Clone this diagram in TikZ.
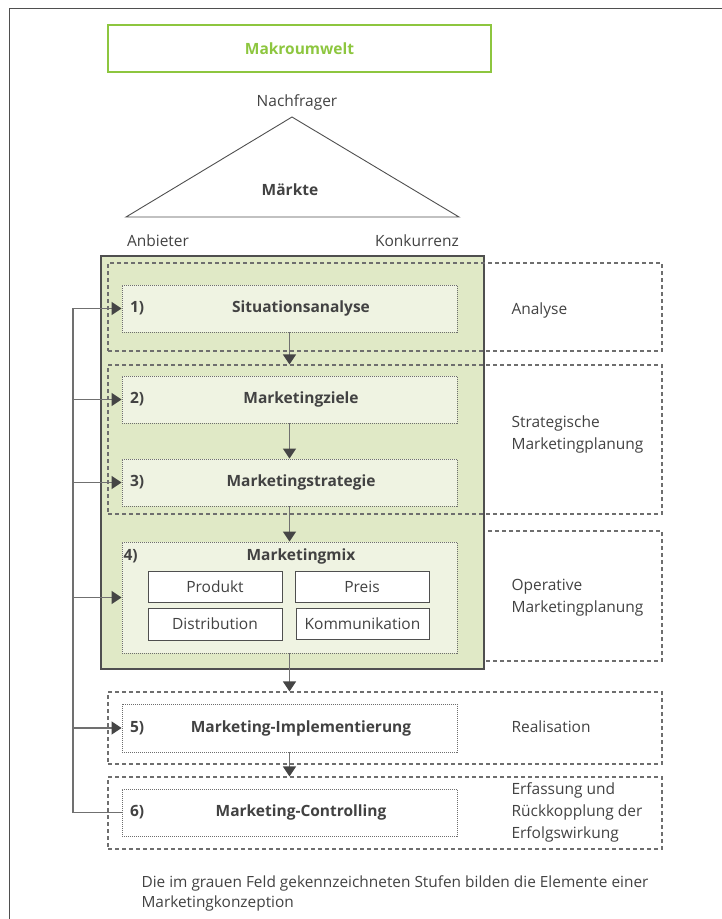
\documentclass[tikz,border=0pt]{standalone}
\usepackage{fontspec}
\setmainfont{Open Sans}
\usetikzlibrary{arrows.meta}
\definecolor{txt}{HTML}{424242}
\definecolor{lime}{HTML}{8DC63F}
\definecolor{olive}{HTML}{E0E9C6}
\definecolor{pale}{HTML}{EFF3E2}
\definecolor{framec}{HTML}{4F4F4F}
\definecolor{dashc}{HTML}{6E6E6E}
\definecolor{conn}{HTML}{707070}
\definecolor{tipc}{HTML}{454545}

\begin{document}
\begin{tikzpicture}[x=1pt,y=-1pt,
  font=\fontsize{15.5}{22}\selectfont, text=txt,
  groupbox/.style={draw=dashc, line width=1.2pt, dash pattern=on 4pt off 3pt,
    rectangle, inner sep=0pt, minimum width=554pt},
  stagebox/.style={draw=dashc, fill=pale, line width=0.9pt, dash pattern=on 1pt off 1pt,
    rectangle, inner sep=0pt, minimum width=335pt, minimum height=47pt},
  mixbox/.style={draw=framec, fill=white, line width=1pt, rectangle, inner sep=0pt,
    minimum width=134pt, minimum height=31pt},
  title/.style={font=\fontsize{15.5}{22}\selectfont\bfseries},
  num/.style={font=\fontsize{15.5}{22}\selectfont\bfseries, anchor=west},
  side/.style={anchor=west, align=left},
  arr/.style={draw=conn, line width=1.3pt,
    -{Triangle[width=13pt,length=10pt,color=tipc]}},
  line/.style={draw=conn, line width=1.3pt}
]
\useasboundingbox (0,0) rectangle (722,919);

% outer frame (top and left edges)
\draw[framec, line width=1.5pt] (9.5,919) -- (9.5,8.5) -- (722,8.5);

% macro environment
\node[draw=lime, line width=1.5pt, minimum width=383pt, minimum height=47pt, inner sep=0pt]
  (makro) at (299.5,48.5) {};
\node[font=\fontsize{15.5}{22}\selectfont\bfseries, text=lime] (makrot) at (299.5,48.5) {Makroumwelt};

% market triangle
\coordinate (apex) at (292,117);
\coordinate (bl) at (126,217);
\coordinate (br) at (459,217);
\draw[framec, line width=0.9pt, line join=miter] (bl) -- (apex) -- (br) -- cycle;
\node (nach) at (297,102) {Nachfrager};
\node[title] (maerkte) at (290,190) {Märkte};
\node (anb) at (158,241) {Anbieter};
\node (konk) at (417,241) {Konkurrenz};

% operative phase frame (behind the concept field)
\node[groupbox, minimum height=130pt] (g4) at (385,596) {};

% concept field
\node[draw=framec, fill=olive, line width=1.2pt, rectangle, inner sep=0pt,
  minimum width=383pt, minimum height=413pt] (field) at (292.5,462.5) {};

% phase frames
\node[groupbox, minimum height=88pt] (g1) at (385,307) {};
\node[groupbox, minimum height=149pt] (g2) at (385,439.5) {};
\node[groupbox, minimum height=72pt] (g5) at (385,728) {};
\node[groupbox, minimum height=72pt] (g6) at (385,813) {};

% stages
\node[stagebox] (b1) at (289.5,308.5) {};
\node[stagebox] (b2) at (289.5,399.5) {};
\node[stagebox] (b3) at (289.5,482.5) {};
\node[stagebox, minimum height=111pt] (b4) at (289.5,597.5) {};
\node[stagebox, fill=white, minimum height=48pt] (b5) at (289.5,728) {};
\node[stagebox, fill=white] (b6) at (289.5,812.5) {};

\node[num] (n1) at ([xshift=5pt]b1.west) {1)};
\node[num] (n2) at ([xshift=5pt]b2.west) {2)};
\node[num] (n3) at ([xshift=5pt]b3.west) {3)};
\node[num] (n4) at (120,556) {4)};
\node[num] (n5) at ([xshift=5pt]b5.west) {5)};
\node[num] (n6) at ([xshift=5pt]b6.west) {6)};

\node[title] (t1) at (301,308.5) {Situationsanalyse};
\node[title] (t2) at (301,399.5) {Marketingziele};
\node[title] (t3) at (301,482.5) {Marketingstrategie};
\node[title] (t4) at (301,556) {Marketingmix};
\node[title] (t5) at (301,728) {Marketing-Implementierung};
\node[title] (t6) at (301,812.5) {Marketing-Controlling};

% marketing mix instruments
\node[mixbox] (prod) at (215,586.5) {Produkt};
\node[mixbox] (preis) at (362,586.5) {Preis};
\node[mixbox, minimum height=32pt] (dist) at (215,624) {Distribution};
\node[mixbox, minimum width=133pt] (komm) at (362.5,624) {Kommunikation};

% phase labels
\node[side] (l1) at (508,310) {Analyse};
\node[side] (l2) at (508,434) {Strategische\\Marketingplanung};
\node[side] (l4) at (508,598) {Operative\\Marketingplanung};
\node[side] (l5) at (508,727) {Realisation};
\node[side] (l6) at (508,812) {Erfassung und\\Rückkopplung der\\Erfolgswirkung};

% sequence of stages
\draw[arr] (b1.south) -- (b1.south |- g2.north);
\draw[arr] (b2.south) -- (b3.north);
\draw[arr] (b3.south) -- (b4.north);
\draw[arr] (b4.south) -- (b4.south |- g5.north);
\draw[arr] (b5.south) -- (b5.south |- g6.north);

% feedback loop
\coordinate (fb) at (73,0);
\draw[arr] (b6.west) -- (b6.west -| fb) -- (b1.west -| fb) -- (b1.west);
\draw[arr] (b2.west -| fb) -- (b2.west);
\draw[arr] (b3.west -| fb) -- (b3.west);
\draw[arr] (b4.west -| fb) -- (b4.west);
\draw[arr] (b5.west -| fb) -- (b5.west);

% note
\node[anchor=west, align=left, font=\fontsize{15.4}{20}\selectfont] (note) at (138,893)
  {Die im grauen Feld gekennzeichneten Stufen bilden die Elemente einer\\Marketingkonzeption};
\end{tikzpicture}
\end{document}
